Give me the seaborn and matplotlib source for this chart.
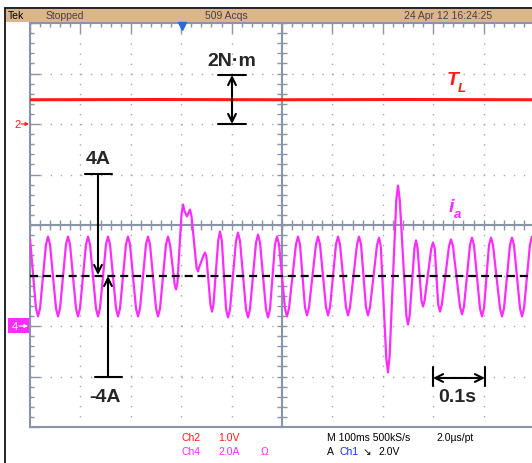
import numpy as np
import matplotlib.pyplot as plt
import seaborn as sns
from matplotlib.lines import Line2D
from matplotlib.patches import Rectangle, FancyArrowPatch

# Ch4: phase current i_a (peaks, troughs and their shoulders)
# time in ms (100 ms/div), current in A (zero = dashed line)
t_ia = [0, 11.9, 15.9, 19.9, 31.7, 35.7, 39.7, 51.6, 55.6, 59.6,
        71.4, 75.4, 79.4, 91.2, 95.2, 99.2, 111.1, 115.1, 119.1, 130.9,
        134.9, 138.9, 150.8, 154.8, 158.8, 170.6, 174.6, 178.6, 190.4, 194.4,
        198.4, 210.3, 214.3, 218.3, 230.1, 234.1, 238.1, 250.0, 254.0, 258.0,
        269.8, 273.8, 277.8, 287.0, 289.7, 292.5, 300.5, 303.6, 306.5, 311.5,
        317.5, 320.5, 330.5, 333.3, 336.0, 344.5, 347.2, 350.0, 358.0, 361.1,
        364.0, 373.5, 377.0, 380.5, 389.0, 392.9, 396.9, 408.7, 412.7, 416.7,
        428.5, 432.5, 436.5, 448.4, 452.4, 456.4, 468.2, 472.2, 476.2, 486.1,
        490.1, 494.1, 505.9, 509.9, 513.9, 527.7, 531.7, 535.7, 545.6, 549.6,
        553.6, 567.4, 571.4, 575.4, 587.3, 591.3, 595.3, 607.1, 611.1, 615.1,
        626.9, 630.9, 634.9, 648.8, 652.8, 656.8, 666.6, 670.6, 674.6, 688.5,
        692.5, 696.0, 707.0, 710.3, 713.5, 726.8, 730.2, 733.6, 746.8, 750.0,
        753.2, 762.9, 765.9, 768.9, 776.8, 779.8, 782.8, 796.0, 799.6, 803.2,
        809.9, 813.5, 817.1, 831.3, 835.3, 839.3, 853.1, 857.1, 861.1, 872.9,
        876.9, 880.9, 892.8, 896.8, 900.8, 910.7, 914.7, 918.7, 932.5, 936.5,
        940.5, 952.3, 956.3, 960.3, 972.2, 976.2, 980.2, 992.0, 996.0, 1000.0]
i_a = [1.45, -1.30, -1.62, -1.30, 1.23, 1.54, 1.23, -1.30, -1.62, -1.30,
       1.23, 1.54, 1.23, -1.30, -1.62, -1.30, 1.23, 1.54, 1.23, -1.30,
       -1.62, -1.30, 1.23, 1.54, 1.23, -1.30, -1.62, -1.30, 1.23, 1.54,
       1.23, -1.30, -1.62, -1.30, 1.23, 1.54, 1.23, -1.30, -1.62, -1.30,
       1.23, 1.54, 1.23, -0.35, -0.55, -0.30, 2.40, 2.81, 2.55, 2.34,
       2.61, 2.35, 0.30, 0.16, 0.35, 0.80, 0.91, 0.75, -1.15, -1.43,
       -1.15, 1.40, 1.74, 1.40, -1.33, -1.66, -1.33, 1.36, 1.70, 1.36,
       -1.33, -1.66, -1.33, 1.30, 1.62, 1.30, -1.33, -1.66, -1.33, 1.23,
       1.54, 1.23, -1.30, -1.62, -1.30, 1.23, 1.54, 1.23, -1.26, -1.58,
       -1.26, 1.23, 1.54, 1.23, -1.26, -1.58, -1.26, 1.23, 1.54, 1.23,
       -1.26, -1.58, -1.26, 1.23, 1.54, 1.23, -1.26, -1.58, -1.26, 1.20,
       1.50, 1.15, -3.30, -3.84, -3.20, 3.00, 3.56, 3.00, -1.60, -1.94,
       -1.60, 1.10, 1.39, 1.10, -1.00, -1.23, -1.00, 1.05, 1.31, 1.05,
       -1.15, -1.43, -1.15, 1.15, 1.43, 1.15, -1.23, -1.54, -1.23, 1.20,
       1.50, 1.20, -1.30, -1.62, -1.30, 1.20, 1.50, 1.20, -1.30, -1.62,
       -1.30, 1.20, 1.50, 1.20, -1.30, -1.62, -1.30, 1.23, 1.54, 1.23]

# Ch2: load torque T_L in N.m
t_tl = [0, 250, 500, 750, 1000]
t_l = [0.96, 0.97, 0.96, 0.97, 0.96]

W, H = 532, 464
GRAT = "#8a94a8"
MAG = "#ff2cff"
RED = "#ff1a1a"


def fp(x, y):
    # screen pixel -> figure fraction
    return x / W, 1 - y / H


def pxline(xs, ys, **kw):
    fig.add_artist(Line2D([x / W for x in xs], [1 - y / H for y in ys],
                          transform=fig.transFigure, **kw))


def arrow(p0, p1, style="->", lw=1.5, ms=14, color="black"):
    fig.add_artist(FancyArrowPatch(
        fp(*p0), fp(*p1), transform=fig.transFigure, arrowstyle=style,
        mutation_scale=ms, lw=lw, color=color, shrinkA=0, shrinkB=0, zorder=6))


sns.set_style("white")
plt.rcParams["font.family"] = ["Liberation Sans", "DejaVu Sans"]

fig = plt.figure(figsize=(W / 100, H / 100), dpi=100)

# screen frame and header bar
pxline([5, 5], [9, 470], color="black", lw=1.2)
pxline([5, 540], [9, 9], color="black", lw=1.2)
fig.add_artist(Rectangle(fp(5.5, 22.5), 530 / W, 13 / H, transform=fig.transFigure,
                         fc="#dbb58c", ec="none"))
hdr = dict(fontsize=7.5, va="center", color="#4a4038")
fig.text(*fp(8, 16), "Tek", **{**hdr, "color": "black"})
fig.text(*fp(46, 16), "Stopped", **hdr)
fig.text(*fp(205, 16), "509 Acqs", **hdr)
fig.text(*fp(404, 16), "24 Apr 12 16:24:25", **hdr)

ax = fig.add_axes([30 / W, 36 / H, 504 / W, 404 / H])
ax.set_xlim(0, 1000)
ax.set_ylim(-6, 10)
ax.set_xticks(np.arange(0, 1001, 100))
ax.set_xticks(np.arange(0, 1001, 20), minor=True)
ax.set_yticks(np.arange(-6, 10.01, 2))
ax.set_yticks(np.arange(-6, 10.01, 0.4), minor=True)
ax.tick_params(which="both", direction="in", top=True, right=True,
               labelbottom=False, labelleft=False, color=GRAT, width=1)
ax.tick_params(which="major", length=7)
ax.tick_params(which="minor", length=3)
for s in ax.spines.values():
    s.set_color(GRAT)
    s.set_linewidth(1.5)
ax.grid(True, which="major", color="#a4a8b4", ls=(0, (1, 6.25)), lw=1)

# centre cross of the graticule
ax.axhline(2, color=GRAT, lw=1.5, zorder=1)
ax.axvline(500, color=GRAT, lw=1.5, zorder=1)
ax.plot(np.arange(0, 1001, 20), np.full(51, 2.0), ls="none", marker="|",
        ms=7, mew=1, color=GRAT, zorder=1)
ax.plot(np.full(41, 500.0), np.arange(-6, 10.01, 0.4), ls="none", marker="_",
        ms=7, mew=1, color=GRAT, zorder=1)

sns.lineplot(x=t_ia, y=i_a, ax=ax, color=MAG, lw=1.6, estimator=None,
             sort=False, zorder=3)
ax.axhline(0, color="black", lw=1.6, ls=(0, (3.6, 2.2)), zorder=5)
ax.set_xlabel("")
ax.set_ylabel("")

ax2 = ax.twinx()
ax2.set_ylim(-12, 4)
sns.lineplot(x=t_tl, y=t_l, ax=ax2, color=RED, lw=2.2, estimator=None, zorder=3)
ax2.set_axis_off()

# trigger position marker
fig.add_artist(Line2D([182 / W], [1 - 27 / H], marker="v", ms=6, color="#2a6ad8",
                      transform=fig.transFigure))

# channel ground markers
fig.text(*fp(18, 125), "2", color=RED, fontsize=8, ha="center", va="center")
arrow((21, 125), (29, 125), style="-|>", lw=0.8, ms=5, color=RED)
fig.add_artist(Rectangle(fp(8, 334), 21 / W, 15 / H, transform=fig.transFigure,
                         fc=MAG, ec="none"))
fig.text(*fp(15, 327), "4", color="white", fontsize=8, ha="center", va="center")
arrow((19, 327), (28, 327), style="-|>", lw=0.8, ms=5, color="white")

# annotations
big = dict(fontsize=14, fontweight="bold", ha="center", va="center", zorder=6)
fig.text(*fp(232, 62), "2N\u00b7m", **big)
pxline([218, 246], [76, 76], color="black", lw=1.5, zorder=6)
pxline([218, 246], [125, 125], color="black", lw=1.5, zorder=6)
arrow((232, 76), (232, 125), style="<->")

fig.text(*fp(98, 160), "4A", **big)
pxline([85, 112], [175, 175], color="black", lw=1.5, zorder=6)
arrow((98, 175), (98, 276))

fig.text(*fp(105, 397), "-4A", **big)
pxline([95, 122], [378, 378], color="black", lw=1.5, zorder=6)
arrow((108, 378), (108, 277))

fig.text(*fp(457, 397), "0.1s", **big)
pxline([433, 433], [368, 387], color="black", lw=1.5, zorder=6)
pxline([485, 485], [368, 387], color="black", lw=1.5, zorder=6)
arrow((433, 379), (485, 379), style="<->")

lab = dict(fontweight="bold", fontstyle="italic", ha="center", va="center")
fig.text(*fp(453, 81), "T", color=RED, fontsize=14, **lab)
fig.text(*fp(462, 89), "L", color=RED, fontsize=9.5, **lab)
fig.text(*fp(451, 208), "i", color=MAG, fontsize=14, **lab)
fig.text(*fp(458, 215), "a", color=MAG, fontsize=9.5, **lab)

# bottom readout
ro = dict(fontsize=7.5, va="center")
fig.text(*fp(181, 438), "Ch2", color=RED, **ro)
fig.text(*fp(218, 438), "1.0V", color=RED, **ro)
fig.text(*fp(181, 452), "Ch4", color=MAG, **ro)
fig.text(*fp(218, 452), "2.0A", color=MAG, **ro)
fig.text(*fp(261, 452), "\u03a9", color=MAG, **ro)
fig.text(*fp(327, 438), "M 100ms 500kS/s", color="black", **ro)
fig.text(*fp(436, 438), "2.0\u00b5s/pt", color="black", **ro)
fig.text(*fp(327, 452), "A", color="black", **ro)
fig.text(*fp(339, 452), "Ch1", color="#1030ff", **ro)
fig.text(*fp(363, 452), "\u2198", color="black", **ro)
fig.text(*fp(378, 452), "2.0V", color="black", **ro)

fig.savefig("out.png", dpi=100)
